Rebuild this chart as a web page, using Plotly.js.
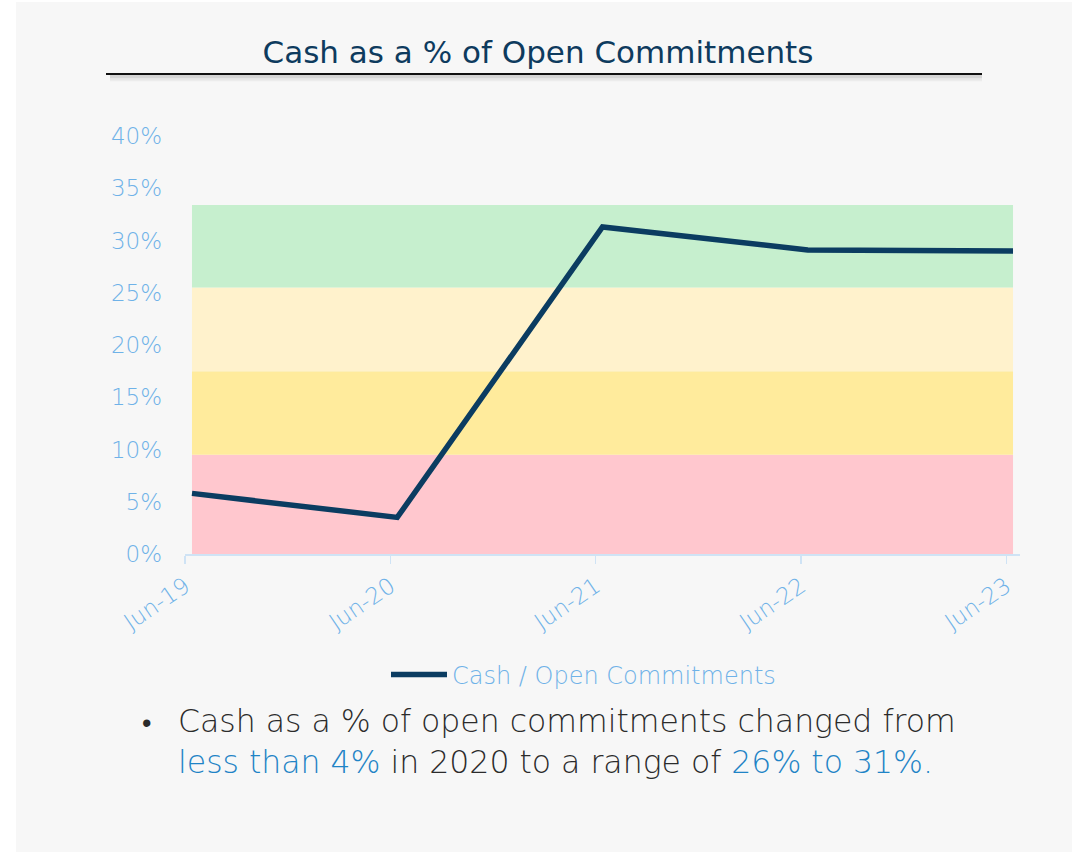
<!DOCTYPE html>
<html>
<head>
<meta charset="utf-8">
<script src="https://cdn.plot.ly/plotly-3.0.1.min.js"></script>
<style>
html,body{margin:0;padding:0;background:#ffffff;}
#chart{width:1076px;height:854px;}
</style>
</head>
<body>
<div id="chart"></div>
<script>
// ---- data ----
var categories = ["Jun-19", "Jun-20", "Jun-21", "Jun-22", "Jun-23"];
var cashPct = [5.8, 3.5, 31.3, 29.1, 29.0];
var seriesName = "Cash / Open Commitments";
var yTickVals = [0, 5, 10, 15, 20, 25, 30, 35, 40];
var yTickText = ["0%", "5%", "10%", "15%", "20%", "25%", "30%", "35%", "40%"];
// rating bands (lower, upper, colour)
var bandLower = [0, 9.5, 17.5, 25.5];
var bandUpper = [9.5, 17.5, 25.5, 33.4];
var bandColors = ["#FFC7CE", "#FFEB9C", "#FFF2CC", "#C6EFCE"];
var titleText = "Cash as a % of Open Commitments";
var bulletLine1 = "Cash as a % of open commitments changed from";
var bulletLine2a = "less than 4%";
var bulletLine2b = " in 2020 to a range of ";
var bulletLine2c = "26% to 31%.";

// ---- layout helpers ----
var W = 1076, H = 854;
var M = {l: 185, r: 56, t: 136, b: 300};
var PW = W - M.l - M.r, PH = H - M.t - M.b;
function px2x(p){ return (p - M.l) / PW; }
function px2y(p){ return (H - M.b - p) / PH; }

var xIdx = categories.map(function(c, i){ return i; });
var tickShift = -0.033;
var xTickVals = xIdx.map(function(i){ return i + tickShift; });

var FONT = "'DejaVu Sans', sans-serif";
var lightBlue = "#6FB2E8";

var shapes = [];
// grey panel
shapes.push({type:"rect", xref:"paper", yref:"paper",
  x0: px2x(16), x1: px2x(1072), y0: px2y(852), y1: px2y(2),
  fillcolor:"#F7F7F7", line:{width:0}, layer:"below"});
// bands
for (var b = 0; b < bandLower.length; b++) {
  shapes.push({type:"rect", xref:"x", yref:"y",
    x0: xIdx[0], x1: xIdx[xIdx.length-1], y0: bandLower[b], y1: bandUpper[b],
    fillcolor: bandColors[b], line:{width:0}, layer:"below"});
}
// title underline shadow
var shadowCols = ["#C8C8C8", "#D6D6D6", "#E2E2E2", "#ECECEC"];
for (var s = 0; s < shadowCols.length; s++) {
  shapes.push({type:"line", xref:"paper", yref:"paper",
    x0: px2x(110), x1: px2x(982), y0: px2y(76 + s*1.5), y1: px2y(76 + s*1.5),
    line:{color: shadowCols[s], width: 1.5}, layer:"above"});
}
shapes.push({type:"line", xref:"paper", yref:"paper",
  x0: px2x(106), x1: px2x(982), y0: px2y(74), y1: px2y(74),
  line:{color:"#111111", width:2}, layer:"above"});

var trace = {
  x: xIdx, y: cashPct, type:"scatter", mode:"lines", name: seriesName,
  line:{color:"#0B3C61", width:5.5}, hoverinfo:"skip"
};

var layout = {
  width: W, height: H,
  margin: M,
  paper_bgcolor:"#FFFFFF", plot_bgcolor:"rgba(0,0,0,0)",
  font:{family: FONT, color: lightBlue, size: 22, weight: 300},
  title:{text: titleText, xref:"container", yref:"container",
    x: 0.5, xanchor:"center", y: 1 - 52/H, yanchor:"middle",
    font:{family: FONT, size: 31, color:"#0E3B5E", weight: 400}},
  xaxis:{
    range:[-0.034, 4.034], tickmode:"array", tickvals: xTickVals, ticktext: categories,
    tickangle: -34, showgrid:false, zeroline:false, showline:true,
    linecolor:"#CFE3F5", linewidth:2, ticks:"outside", ticklen:8, tickcolor:"#CFE3F5", tickwidth:1.5,
    tickfont:{family: FONT, size: 23, color: lightBlue, weight: 300}, fixedrange:true
  },
  yaxis:{
    range:[0, 40], tickmode:"array", tickvals: yTickVals, ticktext: yTickText,
    showgrid:false, zeroline:false, showline:false, ticks:"", ticklabelstandoff: 22,
    tickfont:{family: FONT, size: 23, color: lightBlue, weight: 300}, fixedrange:true
  },
  showlegend:true,
  legend:{orientation:"h", x: px2x(386), xanchor:"left", y: px2y(675), yanchor:"middle",
    itemwidth: 56,
    bgcolor:"rgba(0,0,0,0)", font:{family: FONT, size: 24, color: lightBlue, weight: 300}},
  shapes: shapes,
  annotations:[
    {xref:"paper", yref:"paper", x: px2x(140), y: px2y(722), xanchor:"left", yanchor:"middle",
     text:"•", showarrow:false, font:{family: FONT, size: 27, color:"#2B2B2B"}},
    {xref:"paper", yref:"paper", x: px2x(176), y: px2y(701), xanchor:"left", yanchor:"top",
     align:"left", showarrow:false,
     text: bulletLine1 + "<br><span style='color:#1F84C6'>" + bulletLine2a + "</span>" + bulletLine2b +
           "<span style='color:#1F84C6'>" + bulletLine2c + "</span>",
     font:{family: FONT, size: 31.5, color:"#2B2B2B", weight: 300}}
  ]
};

Plotly.newPlot("chart", [trace], layout, {displayModeBar:false, staticPlot:true});
</script>
</body>
</html>
